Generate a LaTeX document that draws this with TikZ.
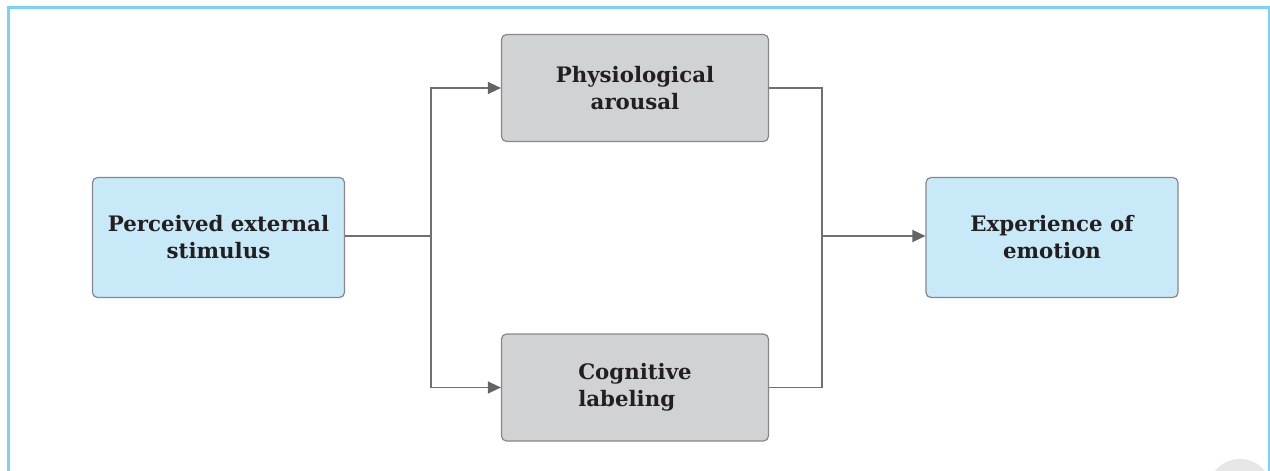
\documentclass[tikz,border=0pt]{standalone}
\usepackage{fontspec}
\setmainfont{DejaVu Serif}
\usetikzlibrary{arrows.meta}
\definecolor{frameblue}{RGB}{120,210,245}
\definecolor{boxblue}{RGB}{199,233,248}
\definecolor{boxgray}{RGB}{209,210,212}
\definecolor{edgegray}{RGB}{135,135,138}
\definecolor{linegray}{RGB}{112,112,115}
\definecolor{arrgray}{RGB}{100,100,104}
\definecolor{txt}{RGB}{35,31,32}
\definecolor{circgray}{RGB}{230,230,230}
\tikzset{
  box/.style={draw=edgegray, line width=1.2pt, rounded corners=5pt, inner sep=0pt,
    font=\fontsize{21.3}{27}\selectfont\bfseries, text=txt},
  bluebox/.style={box, fill=boxblue, minimum width=252pt, minimum height=120pt},
  graybox/.style={box, fill=boxgray, minimum width=267pt, minimum height=107pt},
  conn/.style={draw=linegray, line width=1.4pt},
  arr/.style={conn, -{Triangle[length=13pt,width=12pt,color=arrgray]}},
}
\begin{document}
\begin{tikzpicture}[x=1pt,y=-1pt]
\useasboundingbox (0,0) rectangle (1270,471);
\clip (0,0) rectangle (1270,471);
\fill[circgray] (1240,491) circle (32);
\draw[frameblue, line width=3pt] (8.5,7.5) rectangle (1269.5,520);

\node[bluebox, align=center] (p) at (218.5,237.5) {Perceived external\\stimulus};
\node[graybox, align=center] (ph) at (635,88) {Physiological\\arousal};
\node[graybox, align=left] (c) at (635,387.5) {Cognitive\\labeling};
\node[bluebox, align=center] (e) at (1052,237.5) {Experience of\\emotion};

\coordinate (j1) at (431,236);
\coordinate (j2) at (822,236);
\draw[conn] (p.east |- j1) -- (j1);
\draw[arr] (j1) |- (ph.west);
\draw[arr] (j1) |- (c.west);
\draw[conn] (ph.east) -| (j2);
\draw[conn] (c.east) -| (j2);
\draw[arr] (j2) -- (e.west |- j2);
\end{tikzpicture}
\end{document}
